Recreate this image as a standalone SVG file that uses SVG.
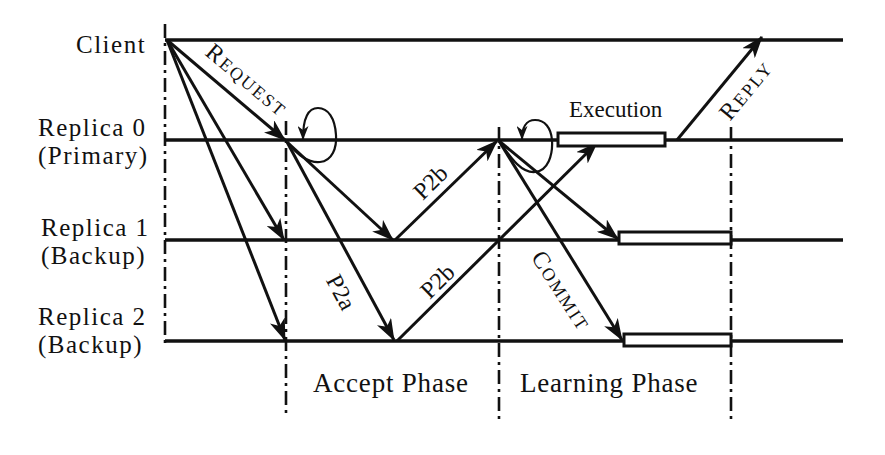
<svg xmlns="http://www.w3.org/2000/svg" width="885" height="455" viewBox="0 0 885 455">
  <style>
    .life { stroke:#111; stroke-width:3.5; fill:none; }
    .axis { stroke:#111; stroke-width:2.6; fill:none; stroke-dasharray:14 5 3 5; }
    .msg { stroke:#111; stroke-width:3; fill:none; marker-end:url(#arr); }
    .loop { stroke:#111; stroke-width:2.2; fill:none; marker-end:url(#sarr); }
    .box { stroke:#111; stroke-width:3; fill:#fff; }
    .lbl { font-family:"Liberation Serif","Times New Roman",serif; font-size:25px; letter-spacing:1.5px; fill:#111; }
    .ph { font-family:"Liberation Serif","Times New Roman",serif; font-size:27px; letter-spacing:0.8px; fill:#111; }
    .ml { font-family:"Liberation Serif","Times New Roman",serif; font-size:24px; fill:#111; }
    .sc { font-family:"Liberation Serif","Times New Roman",serif; font-size:18px; fill:#111; letter-spacing:2px; }
    .big { font-size:24px; }
  </style>
  <defs>
    <marker id="arr" viewBox="0 0 22 16" refX="21" refY="8" markerWidth="22" markerHeight="16" markerUnits="userSpaceOnUse" orient="auto">
      <path d="M0,0 L22,8 L0,16 L6,8 z" fill="#111"/>
    </marker>
    <marker id="sarr" viewBox="0 0 14 11" refX="13" refY="5.5" markerWidth="14" markerHeight="11" markerUnits="userSpaceOnUse" orient="auto">
      <path d="M0,0 L14,5.5 L0,11 L4,5.5 z" fill="#111"/>
    </marker>
  </defs>

  <g id="axes">
    <line class="axis" x1="165" y1="24" x2="165" y2="345"/>
    <line class="axis" x1="286" y1="121" x2="286" y2="418"/>
    <line class="axis" x1="499" y1="127" x2="499" y2="420"/>
    <line class="axis" x1="731" y1="127" x2="731" y2="420"/>
  </g>

  <g id="client">
    <line class="life" x1="165" y1="40" x2="843" y2="40"/>
    <text class="lbl" x="76" y="53">Client</text>
  </g>
  <g id="replica0">
    <line class="life" x1="165" y1="140" x2="843" y2="140"/>
    <text class="lbl" x="38" y="136">Replica 0<tspan x="38" dy="28">(Primary)</tspan></text>
  </g>
  <g id="replica1">
    <line class="life" x1="165" y1="240" x2="843" y2="240"/>
    <text class="lbl" x="41" y="236">Replica 1<tspan x="41" dy="28">(Backup)</tspan></text>
  </g>
  <g id="replica2">
    <line class="life" x1="165" y1="341" x2="843" y2="341"/>
    <text class="lbl" x="38" y="325">Replica 2<tspan x="38" dy="28">(Backup)</tspan></text>
  </g>

  <g id="connectors">
    <line class="msg" x1="167" y1="40" x2="285" y2="140"/>
    <line class="msg" x1="167" y1="40" x2="284" y2="240"/>
    <line class="msg" x1="167" y1="40" x2="285" y2="340"/>
    <line class="msg" x1="287" y1="142" x2="393" y2="240"/>
    <line class="msg" x1="287" y1="142" x2="394" y2="340"/>
    <line class="msg" x1="395" y1="240" x2="497" y2="141"/>
    <line class="msg" x1="397" y1="341" x2="597" y2="143"/>
    <line class="msg" x1="499" y1="141" x2="618" y2="239"/>
    <line class="msg" x1="499" y1="141" x2="622" y2="340"/>
    <line class="msg" x1="677" y1="140" x2="762" y2="37"/>
    <path class="loop" d="M288,143 C300,158 310,163 320,162 C332,161 337,148 336,135 C335,118 328,108 318,108 C308,108 303,118 303,139"/>
    <path class="loop" d="M500,142 C512,160 522,173 535,172 C548,171 553,155 552,140 C551,128 545,120 535,120 C526,120 522,128 522,139"/>
  </g>

  <g id="boxes">
    <rect id="execution" class="box" x="558" y="133" width="107" height="13"/>
    <rect id="exec1" class="box" x="619" y="232" width="112" height="12"/>
    <rect id="exec2" class="box" x="624" y="334" width="107" height="12"/>
  </g>

  <g id="labels">
    <text class="ml" style="font-size:23px" x="569" y="117">Execution</text>
    <text class="ph" x="313" y="392">Accept Phase</text>
    <text class="ph" x="520" y="392">Learning Phase</text>
    <text class="sc" text-anchor="middle" transform="translate(242,86) rotate(40)"><tspan class="big">R</tspan>EQUEST</text>
    <text class="sc" text-anchor="middle" transform="translate(555,295) rotate(57)"><tspan class="big">C</tspan>OMMIT</text>
    <text class="sc" text-anchor="middle" transform="translate(752,95) rotate(-50.5)"><tspan class="big">R</tspan>EPLY</text>
    <text class="ml" text-anchor="middle" transform="translate(436,188) rotate(-44.4)">P2b</text>
    <text class="ml" text-anchor="middle" transform="translate(443,287) rotate(-44.4)">P2b</text>
    <text class="ml" text-anchor="middle" transform="translate(334,296) rotate(62)">P2a</text>
  </g>
</svg>
